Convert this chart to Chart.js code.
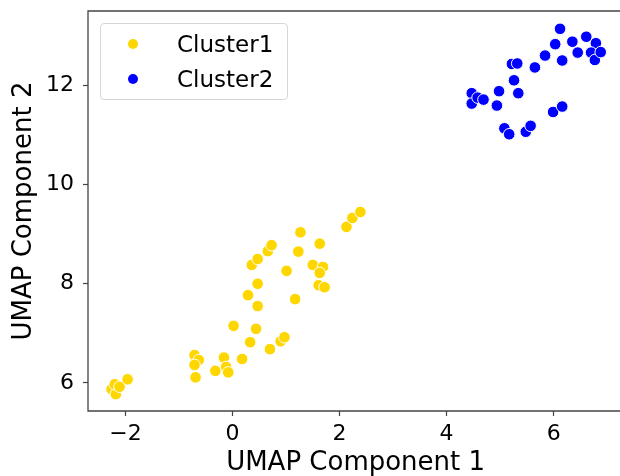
<!DOCTYPE html>
<html lang="en">
<head>
    <meta charset="UTF-8">
    <title>UMAP</title>
    <script src="https://cdn.jsdelivr.net/npm/chart.js"></script>
    <style>
        html, body {
            margin: 0;
            padding: 0;
            overflow: hidden;
            background: #fff;
        }
        body {
            width: 620px;
            height: 476px;
            font-family: 'DejaVu Sans', sans-serif;
        }
        /* the axes run slightly past the right edge, like the original */
        #wrap {
            position: relative;
            width: 620px;
            height: 476px;
            overflow: hidden;
        }
        #grafica {
            display: block;
        }
        #tapa {
            position: absolute;
            left: 612px;
            top: 14px;
            width: 20px;
            height: 394px;
            background: #fff;
        }
        #leyenda {
            position: absolute;
            left: 100px;
            top: 23px;
            width: 186px;
            height: 75px;
            border: 1px solid #d6d6d6;
            border-radius: 4px;
            background: rgba(255, 255, 255, 0.85);
        }
        .item {
            position: absolute;
            left: 0;
            height: 24px;
            font-size: 23px;
            line-height: 24px;
            color: #000;
        }
        .dot {
            position: absolute;
            left: 27px;
            top: 7px;
            width: 10px;
            height: 10px;
            border-radius: 50%;
        }
        .txt {
            position: absolute;
            left: 76px;
            white-space: nowrap;
        }
    </style>
</head>
<body>
    <div id="wrap">
        <canvas id="grafica" width="630" height="476"></canvas>
        <div id="tapa"></div>
        <div id="leyenda"></div>
    </div>
    <script>
        // values
        const cluster1X = [-2.26, -2.18, -2.20, -2.11, -1.96, -0.71, -0.63, -0.71, -0.69, -0.32,
                           -0.16, -0.12, -0.08, 0.18, 0.02, 0.33, 0.44, 0.70, 0.90, 0.97,
                           1.17, 0.47, 0.29, 0.47, 1.01, 0.36, 0.47, 0.66, 0.73, 1.23,
                           1.27, 1.63, 1.50, 1.69, 1.63, 1.61, 1.72, 2.13, 2.24, 2.39];
        const cluster1Y = [5.87, 5.77, 5.97, 5.92, 6.07, 6.56, 6.46, 6.36, 6.11, 6.24,
                           6.51, 6.32, 6.21, 6.48, 7.15, 6.82, 7.09, 6.68, 6.84, 6.92,
                           7.69, 7.55, 7.77, 8.00, 8.26, 8.38, 8.50, 8.66, 8.78, 8.65,
                           9.04, 8.81, 8.38, 8.34, 8.22, 7.97, 7.93, 9.15, 9.33, 9.45];
        const cluster2X = [6.12, 6.03, 6.35, 6.61, 6.79, 6.45, 6.70, 6.77, 6.88, 6.16,
                           5.84, 5.65, 5.22, 5.32, 5.26, 5.34, 4.98, 4.94, 4.47, 4.47,
                           4.58, 4.69, 5.99, 6.16, 5.08, 5.17, 5.48, 5.57];
        const cluster2Y = [13.15, 12.84, 12.89, 12.99, 12.86, 12.67, 12.67, 12.52, 12.68, 12.51,
                           12.61, 12.37, 12.44, 12.45, 12.11, 11.85, 11.89, 11.60, 11.85, 11.64,
                           11.76, 11.72, 11.47, 11.58, 11.14, 11.02, 11.07, 11.19];
        const etiquetas = ['Cluster1', 'Cluster2'];
        const colores = ['#FFD700', '#0000FF'];
        const xTicks = [-2, 0, 2, 4, 6];
        const yTicks = [6, 8, 10, 12];

        const puntos = (xs, ys) => xs.map((x, i) => ({ x: x, y: ys[i] }));
        const menos = v => String(v).replace('-', '\u2212');
        const fuente = 'DejaVu Sans';

        // left, bottom and top spines (the right one falls outside the picture)
        const marco = {
            id: 'marco',
            afterDatasetsDraw(chart) {
                const { ctx, chartArea: a } = chart;
                ctx.save();
                ctx.strokeStyle = '#444';
                ctx.lineWidth = 1.3;
                ctx.beginPath();
                ctx.moveTo(a.right + 10, a.top);
                ctx.lineTo(a.left, a.top);
                ctx.lineTo(a.left, a.bottom);
                ctx.lineTo(a.right + 10, a.bottom);
                ctx.stroke();
                ctx.restore();
            }
        };

        const ctx = document.getElementById('grafica').getContext('2d');
        const grafico = new Chart(ctx, {
            type: 'scatter',
            data: {
                datasets: [
                    { label: etiquetas[0], data: puntos(cluster1X, cluster1Y), backgroundColor: colores[0] },
                    { label: etiquetas[1], data: puntos(cluster2X, cluster2Y), backgroundColor: colores[1] }
                ]
            },
            options: {
                responsive: false,
                maintainAspectRatio: false,
                animation: false,
                layout: { padding: { top: 11, right: 4, left: 0, bottom: 0 } },
                elements: {
                    point: { radius: 5.8, borderWidth: 1, borderColor: '#fff', hoverRadius: 5.8 }
                },
                plugins: {
                    legend: { display: false },
                    tooltip: { enabled: false }
                },
                scales: {
                    x: {
                        type: 'linear',
                        min: -2.70,
                        max: 7.30,
                        afterBuildTicks: s => { s.ticks = xTicks.map(v => ({ value: v })); },
                        afterFit: s => { s.height = 65; s.paddingLeft = 0; s.paddingRight = 0; },
                        border: { display: false },
                        grid: { drawOnChartArea: false, drawTicks: true, tickLength: 5, tickColor: '#444', tickWidth: 1.2 },
                        ticks: { font: { family: fuente, size: 22 }, color: '#000', padding: 5, maxRotation: 0, callback: v => menos(v) },
                        title: { display: true, text: 'UMAP Component 1', color: '#000', font: { family: fuente, size: 26 }, padding: { top: 0, bottom: -3 } }
                    },
                    y: {
                        type: 'linear',
                        min: 5.43,
                        max: 13.51,
                        afterBuildTicks: s => { s.ticks = yTicks.map(v => ({ value: v })); },
                        afterFit: s => { s.width = 88; s.paddingTop = 0; s.paddingBottom = 0; },
                        border: { display: false },
                        grid: { drawOnChartArea: false, drawTicks: true, tickLength: 5, tickColor: '#444', tickWidth: 1.2 },
                        ticks: { font: { family: fuente, size: 22 }, color: '#000', padding: 9, callback: v => menos(v) },
                        title: { display: true, text: 'UMAP Component 2', color: '#000', font: { family: fuente, size: 26 }, padding: { top: 9, bottom: 0 } }
                    }
                }
            },
            plugins: [marco]
        });

        // legend inside the axes, built from the datasets
        const leyenda = document.getElementById('leyenda');
        grafico.data.datasets.forEach((d, i) => {
            const fila = document.createElement('div');
            fila.className = 'item';
            fila.style.top = (8 + i * 35) + 'px';
            fila.innerHTML = '<span class="dot" style="background:' + d.backgroundColor + '"></span><span class="txt">' + d.label + '</span>';
            leyenda.appendChild(fila);
        });
    </script>
</body>
</html>
